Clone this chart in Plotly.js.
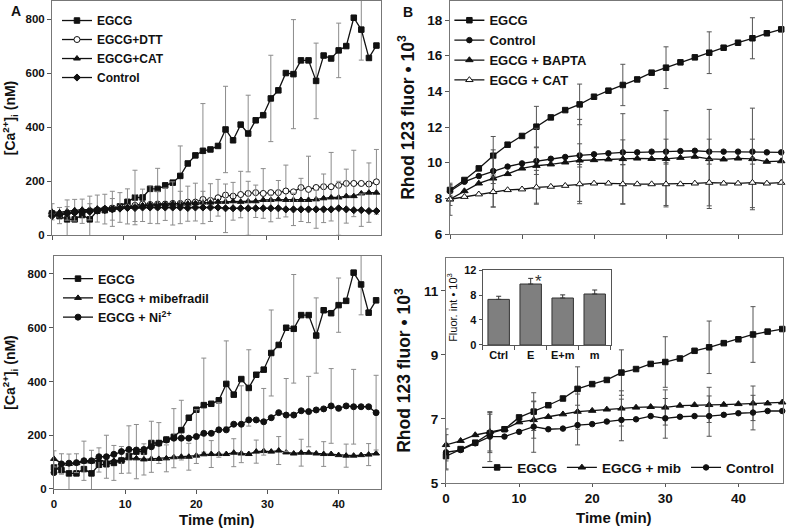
<!DOCTYPE html>
<html><head><meta charset="utf-8">
<script src="https://cdn.plot.ly/plotly-3.0.1.min.js"></script>
<style>html,body{margin:0;padding:0;background:#fff}#chart{width:787px;height:528px}</style>
</head><body><div id="chart"></div>
<script>
const _ = NaN;
// ---------- Panel A (time points, min) ----------
const TIME_A = [0,1.05,2.11,3.16,4.21,5.27,6.32,7.37,8.42,9.48,10.53,11.58,12.64,13.69,14.74,15.8,16.85,17.9,18.95,20.01,21.06,22.11,23.17,24.22,25.27,26.33,27.38,28.43,29.48,30.54,31.59,32.64,33.7,34.75,35.8,36.86,37.91,38.96,40.01,41.07,42.12,43.17,44.23,45.28];
const EGCG_A = [80,70,58,58,74,58,90,92,97,106,123,139,139,171,171,184,194,219,265,295,312,317,330,391,351,409,376,425,444,506,536,600,596,647,647,571,665,654,684,700,805,761,656,702];
const EGCG_A_ERR = [_,_,72,_,_,86,_,_,65,_,_,101,_,_,76,_,_,111,_,_,175,_,_,160,_,_,142,_,_,160,_,_,202,_,_,140,_,_,101,_,_,113,_,_];
const DTT_A = [78,72,80,85,88,90,93,96,100,103,106,110,115,113,115,115,117,117,122,122,132,128,138,148,144,150,154,157,154,157,157,163,160,176,169,176,179,179,184,191,191,191,189,197];
const DTT_A_ERR = [_,30,_,_,45,_,_,55,_,_,65,_,_,70,_,_,80,_,_,70,_,_,68,_,_,86,_,_,92,_,_,96,_,_,123,_,_,127,_,_,123,_,_,120];
const CAT_A = [86,84,88,92,94,94,98,100,100,102,104,106,110,112,114,114,116,116,116,118,120,120,123,123,125,123,125,125,130,130,132,130,130,130,130,132,136,139,139,144,144,154,157,157];
const CAT_A_ERR = [30,_,_,40,_,_,50,_,_,55,_,_,60,_,_,60,_,_,65,_,_,70,_,_,70,_,_,60,_,_,70,_,_,80,_,_,90,_,_,100,_,_,110,_];
const CTRL_A = [70,75,80,82,84,86,90,92,95,98,100,100,102,102,102,102,102,102,100,102,102,102,102,99,99,99,99,99,99,99,99,95,95,95,95,95,95,95,99,95,92,92,89,89];
const CTRL_A_ERR = [_,_,25,_,_,30,_,_,40,_,_,50,_,_,60,_,_,60,_,_,60,_,_,90,_,_,100,_,_,50,_,_,60,_,_,70,_,_,100,_,_,60,_,_];
const MIB_A = [112,96,93,96,102,102,108,102,105,108,114,114,110,112,112,114,118,120,120,124,129,130,130,130,135,132,130,139,141,139,143,136,132,135,135,132,130,130,126,124,124,126,128,132];
const MIB_A_ERR = [30,_,_,35,_,_,45,_,_,50,_,_,58,_,_,50,_,_,50,_,_,50,_,_,52,_,_,43,_,_,52,_,_,50,_,_,46,_,_,43,_,_,41,_];
const NI_A = [61,93,96,98,105,105,120,120,129,139,147,145,147,157,170,182,189,189,189,195,207,207,220,220,241,241,257,257,250,265,284,275,275,291,288,294,298,309,300,309,306,306,306,284];
const NI_A_ERR = [_,38,_,_,73,_,_,80,_,_,88,_,_,95,_,_,110,_,_,100,_,_,102,_,_,143,_,_,124,_,_,136,_,_,131,_,_,139,_,_,139,_,_,139];
// ---------- Panel B ----------
const TIME_B = [0,2,4,6,8,10,12,14,16,18,20,22,24,26,28,30,32,34,36,38,40,42,44,46];
const EGCG_B = [8.47,9.03,9.68,10.39,11.01,11.50,12.02,12.54,12.95,13.27,13.70,14.04,14.36,14.67,15.05,15.33,15.63,15.91,16.17,16.45,16.73,16.98,17.26,17.48];
const EGCG_B_ERR = [0.3,_,_,1.08,_,_,1.14,_,_,1.14,_,_,1.16,_,_,1.17,_,_,1.17,_,_,1.15,_,_];
const CTRL_B = [8.4,8.93,9.25,9.53,9.78,9.96,10.09,10.22,10.32,10.41,10.47,10.53,10.58,10.58,10.62,10.62,10.65,10.67,10.62,10.62,10.62,10.62,10.58,10.58];
const CTRL_B_ERR = [0.3,_,_,0.7,_,_,0.75,_,_,0.65,_,_,0.7,_,_,0.7,_,_,0.7,_,_,0.7,_,_];
const BAPTA_B = [7.95,8.41,8.84,9.12,9.37,9.68,9.83,9.91,10.02,10.13,10.15,10.19,10.21,10.24,10.22,10.22,10.28,10.34,10.21,10.19,10.24,10.21,10.06,10.09];
const BAPTA_B_ERR = [0.9,_,_,1.6,_,_,2.1,_,_,2.3,_,_,2.54,_,_,2.7,_,_,2.78,_,_,2.85,_,_];
const CAT_B = [7.95,8.09,8.23,8.36,8.47,8.51,8.62,8.66,8.71,8.80,8.84,8.84,8.80,8.80,8.80,8.80,8.80,8.84,8.88,8.84,8.84,8.88,8.84,8.88];
const CAT_B_ERR = [0.35,_,_,0.85,_,_,0.95,_,_,1.1,_,_,1.1,_,_,1.2,_,_,1.3,_,_,1.4,_,_];
const EGCG_B2 = [5.84,6.06,6.26,6.55,6.68,7.05,7.23,7.43,7.64,7.94,8.09,8.22,8.45,8.56,8.72,8.78,8.89,9.13,9.24,9.37,9.49,9.64,9.73,9.81];
const EGCG_B2_ERR = [0.4,_,_,0.6,_,_,0.59,_,_,0.69,_,_,0.71,_,_,0.79,_,_,0.82,_,_,0.87,_,_];
const MIB_B2 = [6.19,6.32,6.5,6.6,6.68,6.9,6.97,7.07,7.15,7.23,7.26,7.3,7.33,7.36,7.38,7.36,7.42,7.44,7.44,7.45,7.47,7.49,7.49,7.52];
const MIB_B2_ERR = [0.5,_,_,0.6,_,_,0.57,_,_,0.55,_,_,0.55,_,_,0.55,_,_,0.55,_,_,0.54,_,_];
const CTRL_B2 = [5.96,6.03,6.24,6.45,6.45,6.6,6.76,6.68,6.7,6.81,6.84,6.92,6.97,6.99,7.09,7.02,7.07,7.09,7.09,7.13,7.18,7.2,7.25,7.25];
const CTRL_B2_ERR = [0.55,_,_,0.78,_,_,0.8,_,_,0.62,_,_,0.65,_,_,0.62,_,_,0.63,_,_,0.54,_,_];
// ---------- Inset ----------
const INSET_CATS = ['Ctrl','E','E+m','m'];
const INSET_VALS = [7.3,9.76,7.52,8.16];
const INSET_ERR = [0.5,0.9,0.5,0.64];

const FONT = 'Liberation Sans, Arial, Helvetica, sans-serif';
const BLACK = '#111';

function tr(name, x, y, err, xa, ya, sym, size, fill, legend, errColor){
  return {
    type:'scatter', mode:'lines+markers', name:name, x:x, y:y,
    xaxis:xa, yaxis:ya, legend:legend,
    line:{color:BLACK, width:1.3},
    marker:{symbol:sym, size:size, color:fill, line:{color:BLACK, width:1}},
    error_y:{type:'data', array:err, visible:true, color:errColor, thickness:1, width:2.5},
    cliponaxis:false
  };
}
const GA = '#8c8c8c', GB = '#555';
const data = [
  tr('EGCG', TIME_A, EGCG_A, EGCG_A_ERR, 'x','y','square',5.5,BLACK,'legend',GA),
  tr('EGCG+DTT', TIME_A, DTT_A, DTT_A_ERR, 'x','y','circle',6,'#fff','legend',GA),
  tr('EGCG+CAT', TIME_A, CAT_A, CAT_A_ERR, 'x','y','triangle-up',6,BLACK,'legend',GA),
  tr('Control', TIME_A, CTRL_A, CTRL_A_ERR, 'x','y','diamond',5.5,BLACK,'legend',GA),

  tr('EGCG', TIME_A, EGCG_A, EGCG_A_ERR, 'x2','y2','square',5.5,BLACK,'legend2',GA),
  tr('EGCG + mibefradil', TIME_A, MIB_A, MIB_A_ERR, 'x2','y2','triangle-up',6,BLACK,'legend2',GA),
  tr('EGCG + Ni<sup>2+</sup>', TIME_A, NI_A, NI_A_ERR, 'x2','y2','circle',6,BLACK,'legend2',GA),

  tr('EGCG', TIME_B, EGCG_B, EGCG_B_ERR, 'x3','y3','square',5.5,BLACK,'legend3',GB),
  tr('Control', TIME_B, CTRL_B, CTRL_B_ERR, 'x3','y3','circle',5.5,BLACK,'legend3',GB),
  tr('EGCG + BAPTA', TIME_B, BAPTA_B, BAPTA_B_ERR, 'x3','y3','triangle-up',6.5,BLACK,'legend3',GB),
  tr('EGCG + CAT', TIME_B, CAT_B, CAT_B_ERR, 'x3','y3','triangle-up',6.5,'#fff','legend3',GB),

  tr('EGCG', TIME_B, EGCG_B2, EGCG_B2_ERR, 'x4','y4','square',5.5,BLACK,'legend4',GB),
  tr('EGCG + mib', TIME_B, MIB_B2, MIB_B2_ERR, 'x4','y4','triangle-up',6.5,BLACK,'legend4',GB),
  tr('Control', TIME_B, CTRL_B2, CTRL_B2_ERR, 'x4','y4','circle',5.5,BLACK,'legend4',GB),

  {type:'bar', x:INSET_CATS, y:INSET_VALS, xaxis:'x5', yaxis:'y5', showlegend:false,
   marker:{color:'#7f7f7f', line:{color:'#333', width:1}},
   error_y:{type:'data', array:INSET_ERR, symmetric:false, arrayminus:[0,0,0,0], color:'#333', thickness:1, width:2.5}}
];

function ax(o){
  return Object.assign({showline:true, mirror:true, linecolor:'#777', linewidth:1,
    ticks:'outside', ticklen:4, tickcolor:'#555', showgrid:false, zeroline:false,
    fixedrange:true}, o);
}
const tickA = {family:FONT, size:11.5, color:BLACK, weight:'bold'};
const tickB = {family:FONT, size:13.5, color:BLACK, weight:'bold'};
const titleX = {family:FONT, size:15, weight:'bold', color:BLACK};
const layout = {
  width:787, height:528, margin:{l:0,r:0,t:0,b:0},
  paper_bgcolor:'#fff', plot_bgcolor:'#fff', showlegend:true,
  font:{family:FONT, color:BLACK},
  bargap:0.33,
  xaxis: ax({domain:[0.0661,0.4835], anchor:'y', range:[0,45.85], dtick:10, showticklabels:false}),
  yaxis: ax({domain:[0.5549,0.9981], anchor:'x', range:[0,867], dtick:200, tickfont:tickA,
    title:{text:'[Ca<sup>2+</sup>]<sub>i</sub> (nM)', font:{family:FONT,size:14,weight:'bold',color:BLACK}, standoff:8}}),
  xaxis2: ax({domain:[0.0686,0.4835], anchor:'y2', range:[0,45.9], dtick:10, tickfont:tickA}),
  yaxis2: ax({domain:[0.0739,0.5152], anchor:'x2', range:[0,867], dtick:200, tickfont:tickA,
    title:{text:'[Ca<sup>2+</sup>]<sub>i</sub> (nM)', font:{family:FONT,size:14,weight:'bold',color:BLACK}, standoff:8}}),
  xaxis3: ax({domain:[0.5718,0.9936], anchor:'y3', range:[0,46.1], dtick:10, showticklabels:false}),
  yaxis3: ax({domain:[0.5568,0.9981], anchor:'x3', range:[6,19.07], tick0:6, dtick:2, tickfont:tickB,
    title:{text:'Rhod 123 fluor • 10<sup>3</sup>', font:{family:FONT,size:17.5,weight:'bold',color:BLACK}, standoff:8}}),
  xaxis4: ax({domain:[0.5667,0.9949], anchor:'y4', range:[0,46.1], dtick:10, ticklen:3, tickfont:tickB}),
  yaxis4: ax({domain:[0.0852,0.5114], anchor:'x4', range:[5,12.03], tick0:5, dtick:2, tickfont:tickB,
    title:{text:'Rhod 123 fluor • 10<sup>3</sup>', font:{family:FONT,size:17.5,weight:'bold',color:BLACK}, standoff:8}}),
  xaxis5: ax({domain:[0.6133,0.776], anchor:'y5', type:'category', tickson:'boundaries', ticklen:4, tickangle:0,
    linecolor:'#555', tickfont:{family:FONT,size:11,weight:'bold',color:BLACK}}),
  yaxis5: ax({domain:[0.3466,0.4886], anchor:'x5', range:[0,12], dtick:4, ticklen:3, linecolor:'#555',
    tickfont:{family:FONT,size:11,weight:'bold',color:BLACK},
    title:{text:'Fluor. int • 10<sup>3</sup>', font:{family:FONT,size:11,color:BLACK}, standoff:4}}),
  legend:{x:0.0724, y:0.9886, xanchor:'left', yanchor:'top', bgcolor:'rgba(0,0,0,0)',
    font:{family:FONT,size:12,weight:'bold',color:BLACK}, tracegroupgap:0, itemwidth:30},
  legend2:{x:0.0737, y:0.5, xanchor:'left', yanchor:'top', bgcolor:'rgba(0,0,0,0)',
    font:{family:FONT,size:12.5,weight:'bold',color:BLACK}, itemwidth:30},
  legend3:{x:0.571, y:0.99, xanchor:'left', yanchor:'top', bgcolor:'rgba(0,0,0,0)',
    font:{family:FONT,size:13,weight:'bold',color:BLACK}, itemwidth:30},
  legend4:{x:0.99, y:0.085, xanchor:'right', yanchor:'bottom', orientation:'h', bgcolor:'rgba(0,0,0,0)',
    font:{family:FONT,size:13.5,weight:'bold',color:BLACK}, itemwidth:30},
  annotations:[
    {text:'A', xref:'paper', yref:'paper', x:16/787, y:1-11/528, xanchor:'center', yanchor:'middle', showarrow:false, font:{family:FONT,size:14,weight:'bold',color:BLACK}},
    {text:'B', xref:'paper', yref:'paper', x:408/787, y:1-12/528, xanchor:'center', yanchor:'middle', showarrow:false, font:{family:FONT,size:14,weight:'bold',color:BLACK}},
    {text:'*', xref:'x5', yref:'y5', x:1.25, y:10.2, showarrow:false, font:{family:FONT,size:17,color:'#333'}},
    {text:'Time (min)', xref:'x2 domain', yref:'paper', x:0.5, y:1-519/528, xanchor:'center', yanchor:'middle', showarrow:false, font:titleX},
    {text:'Time (min)', xref:'x4 domain', yref:'paper', x:0.5, y:1-517/528, xanchor:'center', yanchor:'middle', showarrow:false, font:titleX}
  ]
};
Plotly.newPlot('chart', data, layout, {displayModeBar:false, staticPlot:true});
</script></body></html>
